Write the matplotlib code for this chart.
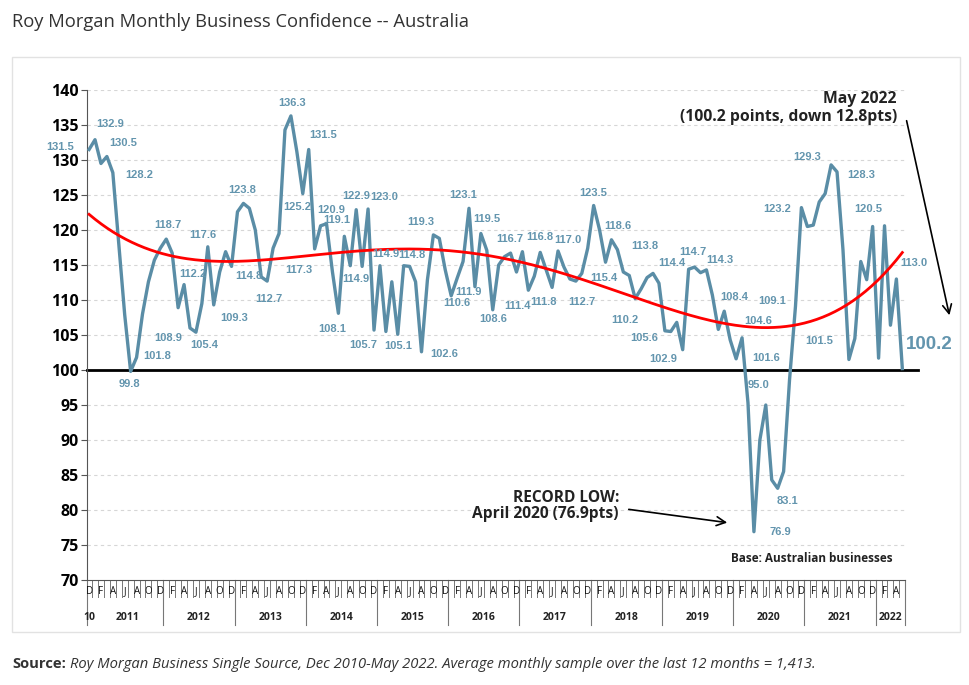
import numpy as np
import matplotlib.pyplot as plt
from matplotlib.patches import Rectangle
from matplotlib.transforms import blended_transform_factory

# Monthly business confidence, Dec 2010 .. May 2022
confidence = [
    131.5, 132.9, 129.5, 130.5, 128.2, 118.0, 107.9, 99.8, 101.8, 108.0, 112.6, 115.7,   # Dec10-Nov11
    117.4, 118.7, 116.7, 108.9, 112.2, 106.0, 105.4, 109.5, 117.6, 109.3, 114.0, 116.9,  # Dec11-Nov12
    114.8, 122.6, 123.8, 123.1, 120.0, 113.3, 112.7, 117.4, 119.5, 134.3, 136.3, 131.2,  # Dec12-Nov13
    125.2, 131.5, 117.3, 120.6, 120.9, 114.0, 108.1, 119.1, 114.9, 122.9, 114.8, 123.0,  # Dec13-Nov14
    105.7, 114.9, 105.5, 112.6, 105.1, 114.9, 114.8, 112.6, 102.6, 112.9, 119.3, 118.8,  # Dec14-Nov15
    114.3, 110.6, 113.1, 115.5, 123.1, 111.9, 119.5, 117.1, 108.6, 115.0, 116.2, 116.7,  # Dec15-Nov16
    114.0, 116.9, 111.4, 113.4, 116.8, 114.3, 111.8, 117.0, 114.7, 113.0, 112.7, 113.8,  # Dec16-Nov17
    117.4, 123.5, 120.0, 115.4, 118.6, 117.2, 114.0, 113.5, 110.2, 111.6, 113.2, 113.8,  # Dec17-Nov18
    112.4, 105.6, 105.5, 106.8, 102.9, 114.4, 114.7, 113.9, 114.3, 110.7, 105.8, 108.4,  # Dec18-Nov19
    104.3, 101.6, 104.6, 95.3, 76.9, 90.0, 95.0, 84.3, 83.1, 85.5, 98.6, 109.1,          # Dec19-Nov20
    123.2, 120.5, 120.7, 124.0, 125.2, 129.3, 128.3, 117.2, 101.5, 104.5, 115.5, 112.9,  # Dec20-Nov21
    120.5, 101.7, 120.6, 106.4, 113.0, 100.2,                                            # Dec21-May22
]
month_letters = ['D', 'F', 'A', 'J', 'A', 'O']
year_labels = ['10', '2011', '2012', '2013', '2014', '2015', '2016',
               '2017', '2018', '2019', '2020', '2021', '2022']

# which points carry a value label, and where the label sits (pixels: right, down)
label_offsets = {
    0: (-29, -3), 1: (15, -16), 3: (16, -14), 4: (26, 2), 7: (-1, 13), 8: (21, -1),
    13: (2, -14), 15: (-10, 30), 16: (9, -11), 18: (8, 13), 20: (-5, -12), 21: (20, 13),
    24: (17, 10), 26: (-1, -13), 30: (2, 18), 34: (1, -13), 36: (-6, 13), 37: (14, -14),
    38: (-16, 21), 40: (5, -14), 42: (-6, 16), 43: (-8, -16), 44: (6, 13), 45: (0, -14),
    47: (16, -12), 48: (-11, 15), 49: (6, -12), 52: (0, 12), 54: (2, -11), 56: (23, 2),
    58: (-13, -13), 61: (6, 7), 64: (-6, -13), 65: (-6, 5), 66: (6, -14), 68: (0, 9),
    71: (-1, -14), 74: (-11, 16), 76: (0, -15), 78: (-9, 15), 79: (10, -11), 82: (6, 21),
    85: (0, -12), 87: (-2, 16), 88: (6, -14), 92: (-10, 21), 95: (-8, -27), 97: (-21, 7),
    100: (-20, 9), 101: (-17, -6), 102: (-2, -15), 104: (13, -10), 107: (10, -14),
    109: (30, -1), 110: (16, -17), 112: (26, 0), 114: (-7, -20), 116: (10, 13),
    119: (-23, -5), 120: (-24, 1), 125: (-24, -8), 126: (24, 3), 128: (-30, -18),
    132: (-4, -17), 136: (17, -16),
}

line_color = '#5a8da6'
label_color = '#6395ae'
x = np.arange(len(confidence))
y = np.array(confidence)

fig = plt.figure(figsize=(9.7, 6.85), dpi=100)
fig.patches.append(Rectangle((12 / 970, 1 - 632 / 685), 948 / 970, 575 / 685,
                             transform=fig.transFigure, fill=False,
                             edgecolor='#e2e2e2', linewidth=1))
ax = fig.add_axes([87 / 970, 105 / 685, 818 / 970, 490 / 685])

for v in range(75, 145, 5):
    if v != 100:
        ax.axhline(v, color='#d6d6d6', linewidth=0.8, linestyle=(0, (3, 3)), zorder=0)
ax.plot([-0.35, 139.6], [100, 100], color='black', linewidth=2, clip_on=False, zorder=2)

ax.plot(x, y, color=line_color, linewidth=2.4, solid_joinstyle='round', zorder=3)

# 4th order polynomial trend line, as Excel draws it
coef = np.polyfit(x, y, 4)
xs = np.linspace(0, x[-1], 400)
ax.plot(xs, np.polyval(coef, xs), color='#ff0000', linewidth=2, zorder=4)

for i, (dx, dy) in label_offsets.items():
    ax.annotate(f'{confidence[i]:.1f}', xy=(i, confidence[i]), xytext=(dx, -dy),
                textcoords='offset pixels', ha='center', va='center',
                fontsize=8, fontweight='bold', color=label_color,
                family='Liberation Sans', zorder=5)
ax.annotate(f'{confidence[-1]:.1f}', xy=(x[-1], confidence[-1]), xytext=(27, 24),
            textcoords='offset pixels', ha='center', va='center', fontsize=13.5,
            fontweight='bold', color=label_color, family='Liberation Sans',
            annotation_clip=False)

ax.set_xlim(-0.35, 137.45)
ax.set_ylim(70, 140)
ax.set_yticks(range(70, 145, 5))
ax.tick_params(axis='y', length=4, width=0.8, color='#555555', pad=2)
for t in ax.get_yticklabels():
    t.set_fontweight('bold')
    t.set_fontsize(11.5)
    t.set_family('Open Sans')
ax.set_xticks([])
for s in ['top', 'right']:
    ax.spines[s].set_visible(False)
ax.spines['left'].set_color('#555555')
ax.spines['bottom'].set_color('#555555')

# category axis: month letters, month ticks, year blocks
tr = blended_transform_factory(ax.transData, ax.transAxes)
px = 1 / 490
for i in range(len(confidence) - 1):
    ax.plot([i + 0.5, i + 0.5], [0, -17 * px], color='#777777', linewidth=0.7,
            transform=tr, clip_on=False)
for i in range(0, len(confidence), 2):
    ax.text(i, -12 * px, month_letters[(i // 2) % 6], transform=tr, ha='center',
            va='center', fontsize=7, family='Open Sans', color='#111111')
bounds = [-0.35] + [12.5 + 12 * k for k in range(11)] + [137.45]
for b in bounds:
    ax.plot([b, b], [0, -45 * px], color='#777777', linewidth=0.8,
            transform=tr, clip_on=False)
year_pos = [0] + [6.5 + 12 * k for k in range(11)] + [135]
for pos, lab in zip(year_pos, year_labels):
    ax.text(pos, -38 * px, lab, transform=tr, ha='center', va='center',
            fontsize=7.5, fontweight='bold', family='Open Sans', color='#222222')

# annotations
fig.text(897 / 970, 1 - 108 / 685, 'May 2022\n(100.2 points, down 12.8pts)',
         ha='right', va='center', fontsize=11.3, fontweight='bold', family='Open Sans',
         color='#222222', linespacing=1.1)
ax.annotate('', xy=(950 / 970, 1 - 318 / 685), xycoords='figure fraction',
            xytext=(906 / 970, 1 - 118 / 685), textcoords='figure fraction',
            arrowprops=dict(arrowstyle='->', color='black', lw=1.2,
                            mutation_scale=16))
fig.text(619 / 970, 1 - 506 / 685, 'RECORD LOW:\nApril 2020 (76.9pts)', ha='right',
         va='center', fontsize=11.2, fontweight='bold', family='Open Sans',
         color='#222222', linespacing=1.05)
ax.annotate('', xy=(730 / 970, 1 - 523 / 685), xycoords='figure fraction',
            xytext=(626 / 970, 1 - 509 / 685), textcoords='figure fraction',
            arrowprops=dict(arrowstyle='->', color='black', lw=1.2,
                            mutation_scale=16))
fig.text(893 / 970, 1 - 559 / 685, 'Base: Australian businesses', ha='right',
         va='center', fontsize=8.5, fontweight='bold', family='Open Sans', color='#222222')

fig.text(12 / 970, 1 - 22 / 685, 'Roy Morgan Monthly Business Confidence -- Australia',
         ha='left', va='center', fontsize=13.2, family='Open Sans', color='#333333')
src = fig.text(12 / 970, 1 - 664 / 685, 'Source:', ha='left', va='center',
               fontsize=10.6, fontweight='bold', family='Open Sans', color='#333333')
ax.annotate('Roy Morgan Business Single Source, Dec 2010-May 2022. Average monthly '
            'sample over the last 12 months = 1,413.', xy=(1, 0.5), xycoords=src,
            xytext=(3, 0), textcoords='offset points', ha='left', va='center',
            fontsize=10.6, style='italic', family='Open Sans', color='#333333')

fig.savefig('out.png', dpi=100)
